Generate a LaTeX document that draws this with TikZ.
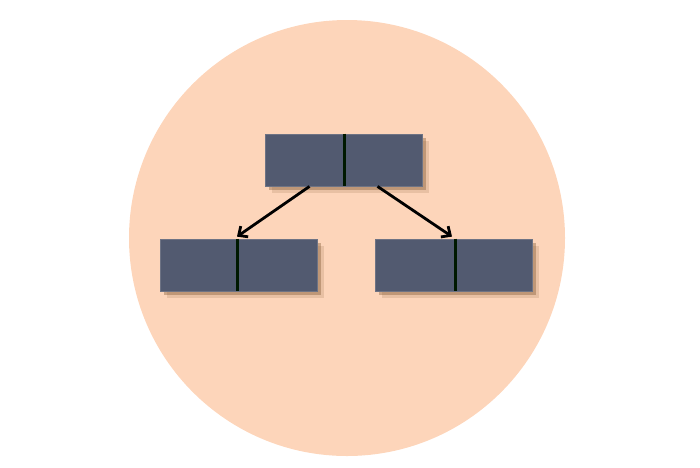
\documentclass[tikz,border=0pt]{standalone}
\usepackage{tikz}
\usepackage{xcolor}
\usetikzlibrary{shadows,calc,arrows.meta}

\definecolor{peach}{HTML}{FDD5BA}
\definecolor{slate}{HTML}{525A70}
\definecolor{slateedge}{HTML}{6E7384}

\tikzset{
  halfbox/.style={draw=slateedge, line width=0.8pt, fill=slate, minimum width=157, minimum height=52, inner sep=0,
    drop shadow={shadow xshift=6.5, shadow yshift=6.5, opacity=0.15, fill=brown!60!black},
    drop shadow={shadow xshift=4, shadow yshift=4, opacity=0.35, fill=brown!60!black}},
  divider/.style={line width=3pt, color=black!90!green},
  link/.style={-{Straight Barb[length=7pt,width=13pt]}, line width=2.8pt}
}

\begin{document}
\begin{tikzpicture}[x=1pt, y=-1pt]
\useasboundingbox (0,0) rectangle (700,467);

\fill[peach] (347,238) circle (218);

\node[halfbox] (root) at (343.5,160) {};
\node[halfbox] (left) at (238.5,265) {};
\node[halfbox] (right) at (453.5,265) {};

\draw[divider] ($(root.north)+(0.5,0)$) -- ($(root.south)+(0.5,0)$);
\draw[divider] ($(left.north)+(-1.5,0)$) -- ($(left.south)+(-1.5,0)$);
\draw[divider] ($(right.north)+(1.5,0)$) -- ($(right.south)+(1.5,0)$);

\draw[link] ($(root.south)+(-34,0)$) -- ($(left.north)+(-1.5,-2)$);
\draw[link] ($(root.south)+(34,0)$) -- ($(right.north)+(-1.5,-2)$);
\end{tikzpicture}
\end{document}
